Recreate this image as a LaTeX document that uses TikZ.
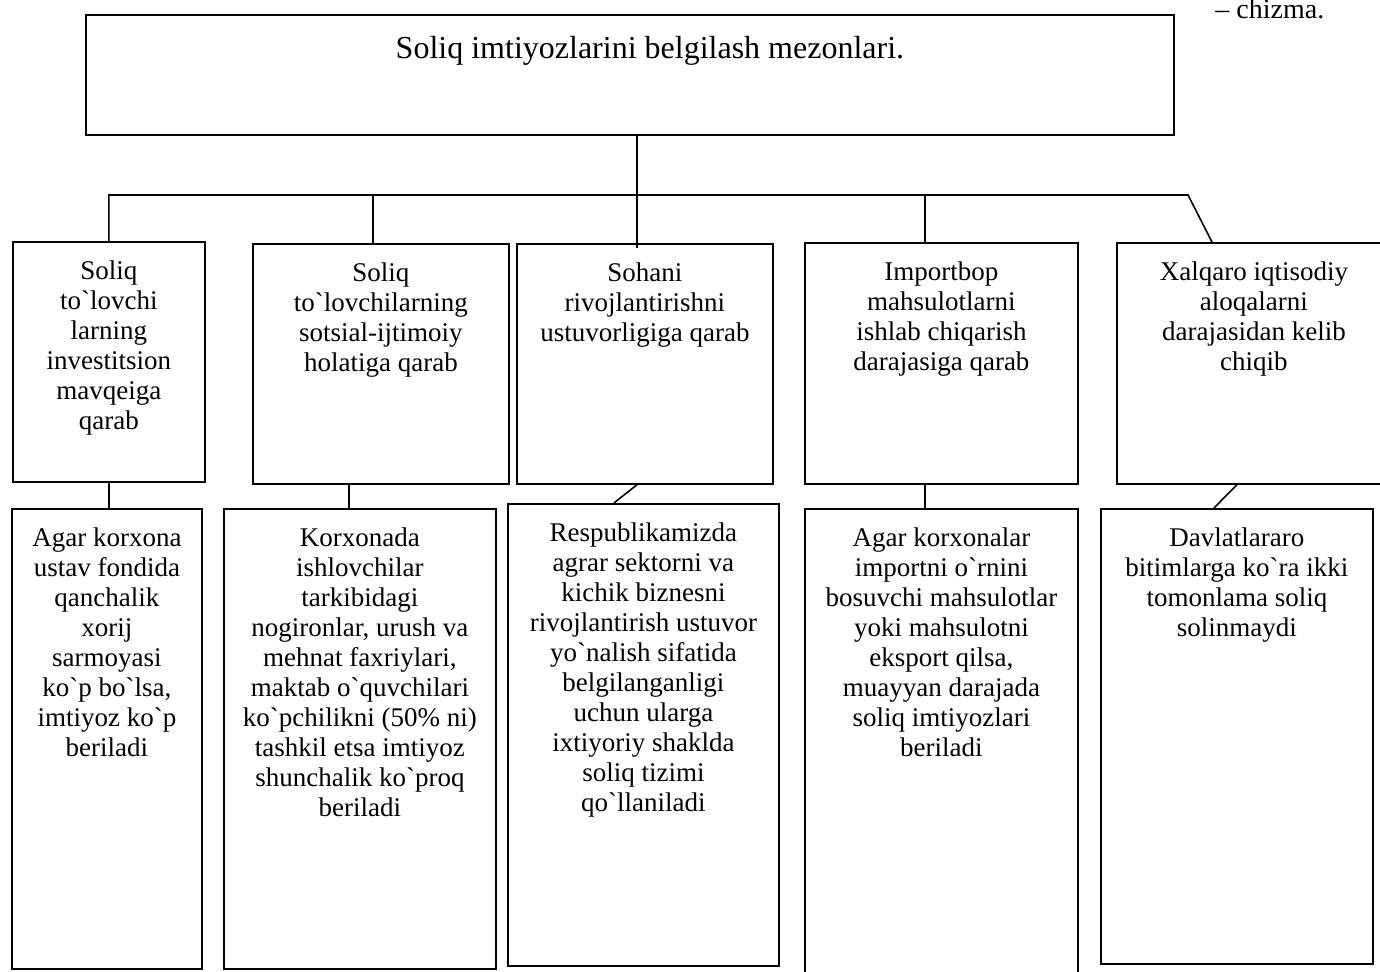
\documentclass[tikz,border=0pt]{standalone}
\usepackage{fontspec}
\setmainfont{Liberation Serif}[Ligatures=TeXOff]
\usetikzlibrary{positioning,calc}
\tikzset{
  frame box/.style={
    draw,
    rectangle,
    line width=0.9pt,
    inner sep=0pt,
    anchor=north west
  },
  box text/.style={
    align=center,
    inner sep=0pt,
    font=\fontsize{13.5pt}{15pt}\selectfont
  },
  link/.style={
    draw,
    line width=0.8pt
  }
}

\begin{document}
\begin{tikzpicture}[x=0.5pt, y=-0.5pt, node distance=9.5pt]
  \useasboundingbox (0,0) rectangle (1380,971);

  % Head
  \node[frame box, minimum width=544pt, minimum height=60pt] at (85,14) (head) {};
  \node[box text, font=\fontsize{16pt}{18pt}\selectfont, below=11pt of head.north, xshift=10pt] (headtxt) {Soliq imtiyozlarini belgilash mezonlari.};
  \node[box text, font=\fontsize{14pt}{15pt}\selectfont, anchor=base west] at (1215,18) (fignote) {– chizma.};

  % Criteria
  \node[frame box, minimum width=96pt, minimum height=120pt] at (12,241) (crit1) {};
  \node[frame box, minimum width=128pt, minimum height=120pt] at (252,243) (crit2) {};
  \node[frame box, minimum width=128pt, minimum height=120pt] at (516,243) (crit3) {};
  \node[frame box, minimum width=136.5pt, minimum height=120.5pt] at (804,242) (crit4) {};
  \node[frame box, minimum width=137pt, minimum height=120.5pt] at (1116,242) (crit5) {};

  \node[box text, below=of crit1.north] (crit1txt) {Soliq\\to`lovchi\\larning\\investitsion\\mavqeiga\\qarab};
  \node[box text, below=of crit2.north] (crit2txt) {Soliq\\to`lovchilarning\\sotsial-ijtimoiy\\holatiga qarab};
  \node[box text, below=of crit3.north] (crit3txt) {Sohani\\rivojlantirishni\\ustuvorligiga qarab};
  \node[box text, below=of crit4.north] (crit4txt) {Importbop\\mahsulotlarni\\ishlab chiqarish\\darajasiga qarab};
  \node[box text, below=of crit5.north] (crit5txt) {Xalqaro iqtisodiy\\aloqalarni\\darajasidan kelib\\chiqib};

  % Details
  \node[frame box, minimum width=95pt, minimum height=230pt] at (11,508) (det1) {};
  \node[frame box, minimum width=136pt, minimum height=230pt] at (223,508) (det2) {};
  \node[frame box, minimum width=135.5pt, minimum height=231pt] at (507,503) (det3) {};
  \node[frame box, minimum width=136.5pt, minimum height=245pt] at (804,508) (det4) {};
  \node[frame box, minimum width=136pt, minimum height=227.5pt] at (1100,508) (det5) {};

  \node[box text, below=of det1.north] (det1txt) {Agar korxona\\ustav fondida\\qanchalik\\xorij\\sarmoyasi\\ko`p bo`lsa,\\imtiyoz ko`p\\beriladi};
  \node[box text, below=of det2.north] (det2txt) {Korxonada\\ishlovchilar\\tarkibidagi\\nogironlar, urush va\\mehnat faxriylari,\\maktab o`quvchilari\\ko`pchilikni (50\% ni)\\tashkil etsa imtiyoz\\shunchalik ko`proq\\beriladi};
  \node[box text, below=of det3.north] (det3txt) {Respublikamizda\\agrar sektorni va\\kichik biznesni\\rivojlantirish ustuvor\\yo`nalish sifatida\\belgilanganligi\\uchun ularga\\ixtiyoriy shaklda\\soliq tizimi\\qo`llaniladi};
  \node[box text, below=of det4.north] (det4txt) {Agar korxonalar\\importni o`rnini\\bosuvchi mahsulotlar\\yoki mahsulotni\\eksport qilsa,\\muayyan darajada\\soliq imtiyozlari\\beriladi};
  \node[box text, below=of det5.north] (det5txt) {Davlatlararo\\bitimlarga ko`ra ikki\\tomonlama soliq\\solinmaydi};

  % Bus from head to criteria
  \coordinate (busR) at (1188,195);
  \draw[link] ([xshift=3.5pt]head.south) -- ([xshift=3.5pt, yshift=-2.5pt]head.south |- crit3.north);
  \draw[link] (crit1.north) |- (busR) -- ($(crit5.north west)+(96,0)$);
  \draw[link] ([xshift=-4pt]crit2.north) -- ([xshift=-4pt]crit2.north |- busR);
  \draw[link] ([xshift=-8.25pt]crit4.north) -- ([xshift=-8.25pt]crit4.north |- busR);

  % Criteria to details
  \draw[link] (crit1.south) -- (crit1.south |- det1.north);
  \draw[link] ([xshift=-5.5pt]det2.north) -- ([xshift=-5.5pt]det2.north |- crit2.south);
  \draw[link] ([xshift=-4pt]crit3.south) -- ([xshift=-14.75pt]det3.north);
  \draw[link] ([xshift=-8.25pt]crit4.south) -- ([xshift=-8.25pt]det4.north);
  \draw[link] ([xshift=-8.5pt]crit5.south) -- ([xshift=-11.5pt]det5.north);

\end{tikzpicture}
\end{document}
